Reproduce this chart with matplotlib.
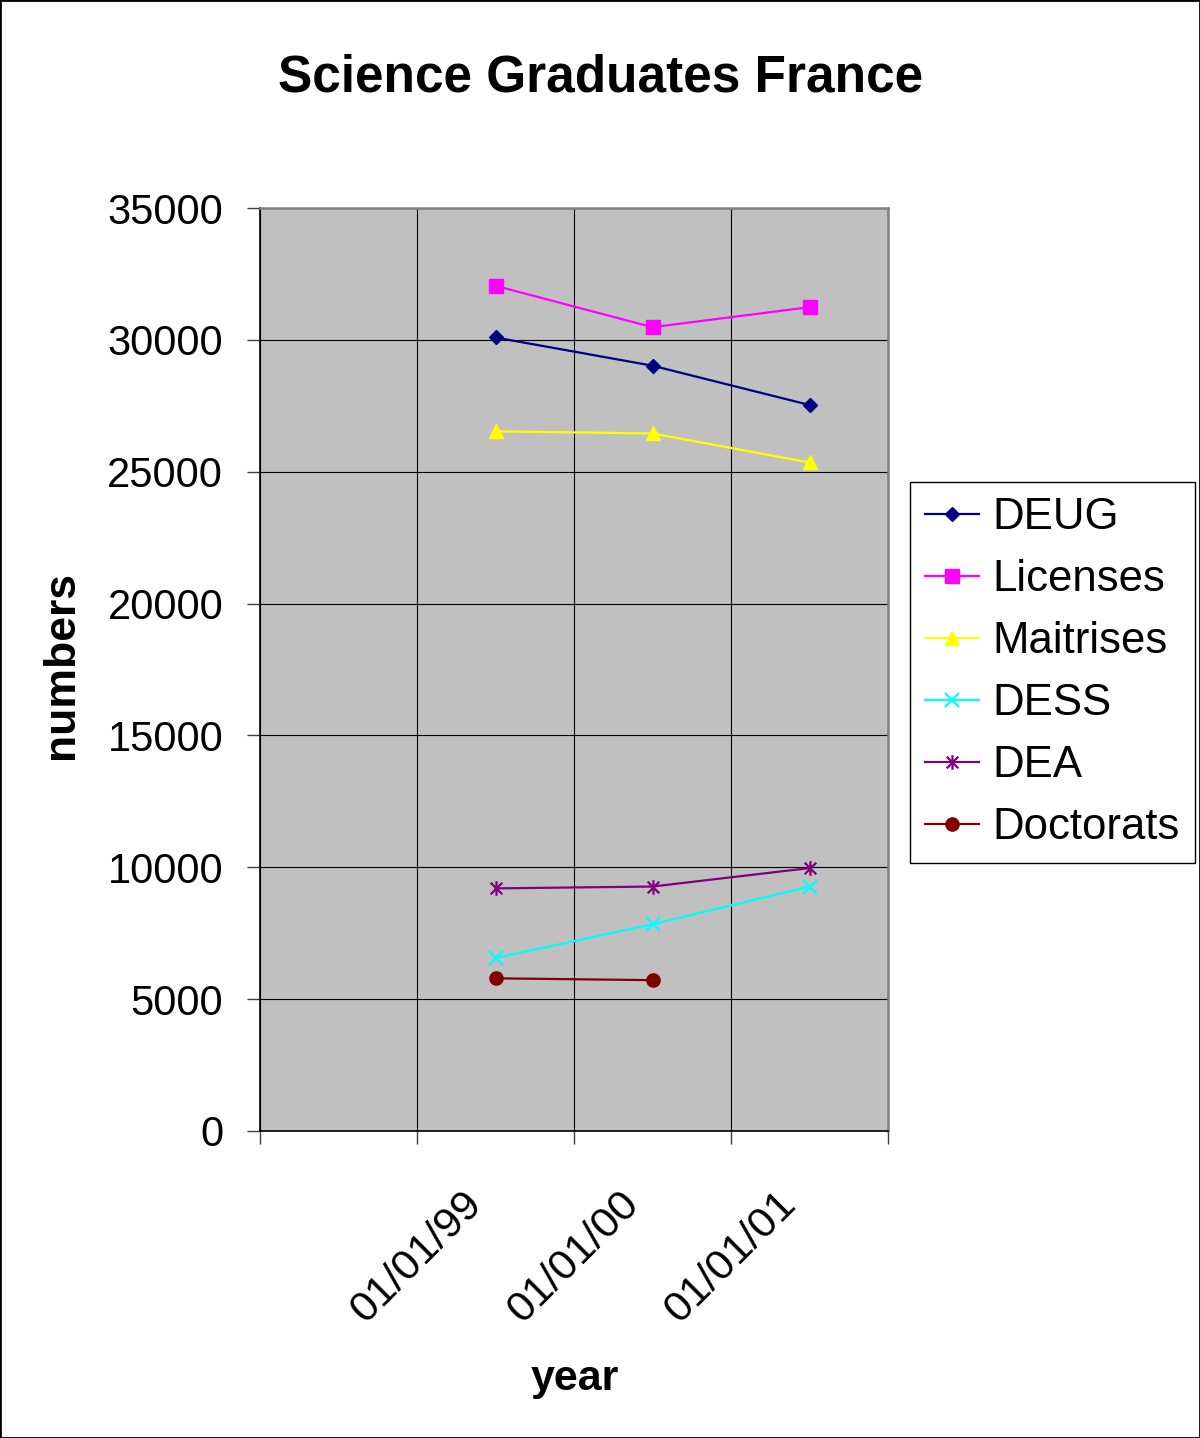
"""
Science graduates in France, Excel-style line chart.
"""
import numpy as np
import matplotlib.pyplot as plt
from matplotlib.path import Path
from matplotlib.patches import Rectangle
from matplotlib.transforms import ScaledTranslation

plt.rcParams['font.family'] = ['Liberation Sans', 'DejaVu Sans']

# categories (first one is an empty slot in the original sheet)
categories = ['', '01/01/99', '01/01/00', '01/01/01']
deug = [np.nan, 30090, 29020, 27530]
licenses = [np.nan, 32050, 30480, 31240]
maitrises = [np.nan, 26530, 26450, 25350]
dess = [np.nan, 6560, 7840, 9270]
dea = [np.nan, 9200, 9270, 9970]
doctorats = [np.nan, 5790, 5720, np.nan]
yticks = [0, 5000, 10000, 15000, 20000, 25000, 30000, 35000]

# Excel-like asterisk: an x with a vertical bar through it
asterisk = Path([(-1, -1), (1, 1), (-1, 1), (1, -1), (0, -1.25), (0, 1.25)],
                [Path.MOVETO, Path.LINETO, Path.MOVETO, Path.LINETO,
                 Path.MOVETO, Path.LINETO])

W, H = 1200, 1438
fig = plt.figure(figsize=(W / 100, H / 100), dpi=100)
ax = fig.add_axes([260 / W, 1 - 1131 / H, 628 / W, 923 / H])
ax.set_facecolor('#c0c0c0')

x = np.arange(len(categories))
ax.plot(x, deug, color='#000080', lw=1.6, marker='D', ms=7.5, label='DEUG')
ax.plot(x, licenses, color='#ff00ff', lw=1.6, marker='s', ms=9.5, label='Licenses')
ax.plot(x, maitrises, color='#ffff00', lw=1.6, marker='^', ms=10.5, label='Maitrises')
ax.plot(x, dess, color='#00ffff', lw=1.6, marker='x', ms=10, mew=1.6, label='DESS')
ax.plot(x, dea, color='#800080', lw=1.6, marker=asterisk, ms=10.5, mew=1.6, label='DEA')
ax.plot(x, doctorats, color='#800000', lw=1.6, marker='o', ms=9.5, label='Doctorats')

ax.set_xlim(-0.5, len(categories) - 0.5)
ax.set_ylim(0, 35000)
ax.set_yticks(yticks)
ax.set_xticks(x)
ax.set_xticklabels(categories)
ax.set_xticks(np.arange(len(categories) + 1) - 0.5, minor=True)

ax.set_axisbelow(True)
ax.grid(axis='y', which='major', color='black', lw=0.8)
ax.grid(axis='x', which='minor', color='black', lw=0.8)

for side in ['top', 'right']:
    ax.spines[side].set_color('#808080')
    ax.spines[side].set_linewidth(1.8)
for side in ['left', 'bottom']:
    ax.spines[side].set_color('black')
    ax.spines[side].set_linewidth(1.2)

ax.tick_params(axis='y', labelsize=30, length=9.5, width=1, color='#404040', pad=17)
ax.tick_params(axis='x', which='major', length=0, labelsize=31, pad=48)
ax.tick_params(axis='x', which='minor', length=9.5, width=1, color='#404040')
shift = ScaledTranslation(-0.2, 0, fig.dpi_scale_trans)
for t in ax.get_xticklabels():
    t.set_rotation(45)
    t.set_ha('right')
    t.set_va('center')
    t.set_rotation_mode('anchor')
    t.set_transform(t.get_transform() + shift)

fig.text(601 / W, 1 - 91 / H, 'Science Graduates France', fontsize=37,
         fontweight='bold', ha='center', va='baseline')
fig.text(575 / W, 1 - 1390 / H, 'year', fontsize=31, fontweight='bold',
         ha='center', va='baseline')
fig.text(73 / W, 1 - 665 / H, 'numbers', fontsize=32, fontweight='bold',
         rotation=90, ha='center', va='baseline', rotation_mode='anchor')

leg = ax.legend(loc='upper left', bbox_to_anchor=(910 / W, 1 - 482 / H),
                bbox_transform=fig.transFigure, fontsize=31.5, frameon=True,
                fancybox=False, edgecolor='black', framealpha=1,
                handlelength=1.23, handletextpad=0.32, labelspacing=0.48,
                borderpad=0.34, borderaxespad=0)
leg.get_frame().set_linewidth(1)

fig.patches.append(Rectangle((0, 0), 1, 1, transform=fig.transFigure,
                             fill=False, edgecolor='black', lw=2))

fig.savefig('out.png', dpi=100, facecolor='white')
